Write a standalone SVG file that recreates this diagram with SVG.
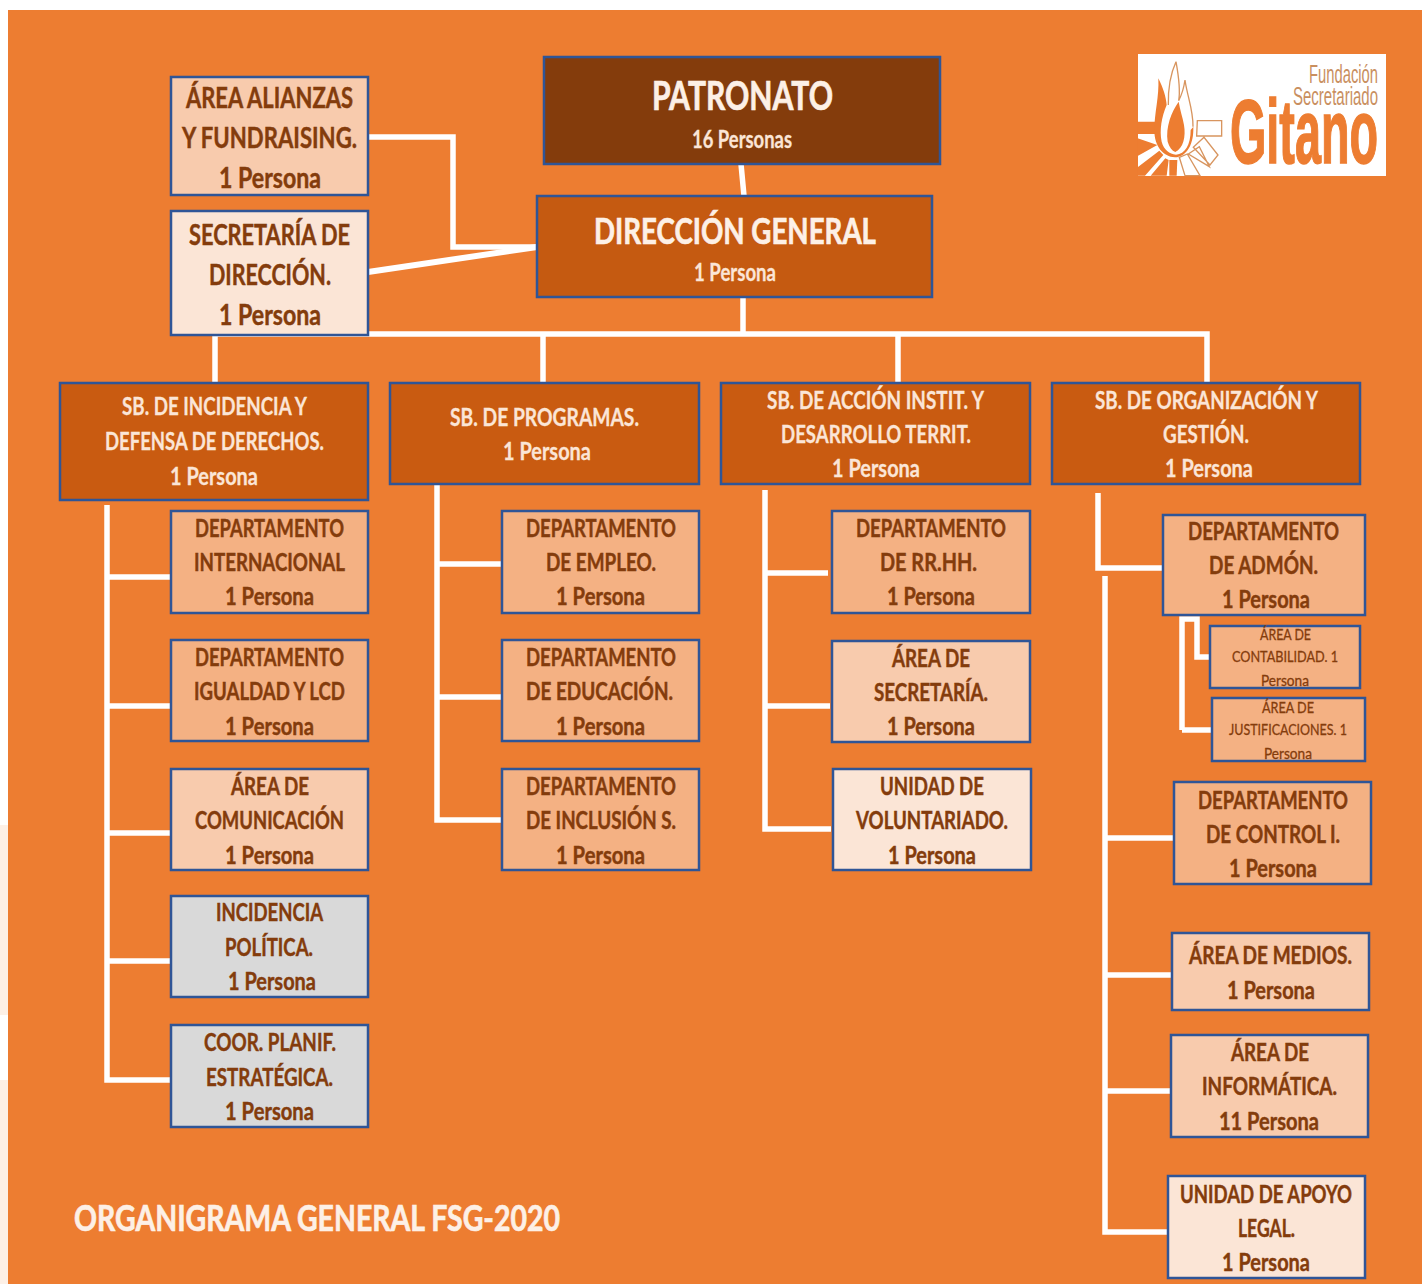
<svg xmlns="http://www.w3.org/2000/svg" width="1427" height="1284" viewBox="0 0 1427 1284">
<style>
text{font-family:"Lato","Carlito","Liberation Sans",sans-serif;font-weight:700;fill:#843c0c;stroke:#843c0c;stroke-width:.45;font-size:25px}
.b{stroke:#2f5597;stroke-width:2.5}
.l{font-size:28px}
.s{font-size:15.5px;font-weight:400;stroke-width:.3}
text.n{fill:#fbe5d6;stroke:#fbe5d6;stroke-width:.3}
text.h{fill:#fdf0e6;stroke:#fdf0e6;stroke-width:.7;font-size:37px}
.c path{fill:none;stroke:#fff;stroke-width:5.5}
.dk{fill:#c95b11}
.a{fill:#f4b183}.p{fill:#f8cbad}.q{fill:#fbe5d6}.g{fill:#d9d9d9}
text.logo{font-family:"Liberation Sans",sans-serif;font-weight:400;fill:#c98f5f;stroke:none;font-size:25px}
</style>
<rect width="1427" height="1284" fill="#fff"/>
<rect x="0" y="825" width="8" height="190" fill="#fdf0e6"/>
<rect x="0" y="1080" width="8" height="204" fill="#fdf0e6"/>
<rect x="8" y="10" width="1414" height="1274" fill="#ed7d31"/>

<g id="connectors" class="c">
<path d="M368 137H453V247H537"/>
<path d="M368 272L537 247" style="stroke-width:6"/>
<path d="M741 164L744 196"/>
<path d="M743 297V335"/>
<path d="M215 383V334H1207V383"/>
<path d="M543 334V383"/>
<path d="M898 334V383"/>
<path d="M107 505V1080H171"/>
<path d="M107 577H171M107 706H171M107 833H171M107 961H171"/>
<path d="M437 483V820H502"/>
<path d="M437 564H502M437 697H502"/>
<path d="M765 490V829H831"/>
<path d="M765 573H828M765 706H830"/>
<path d="M1098 493V568H1163"/>
<path d="M1105 576V1232H1168"/>
<path d="M1105 838H1174M1105 975H1172M1105 1091H1171"/>
<path d="M1182 730V619H1197V657H1210"/>
<path d="M1182 730H1212"/>
</g>

<g id="patronato"><rect class="b" x="544" y="57" width="396" height="107" fill="#843c0c"/>
<text class="h" x="652" y="110" textLength="181" lengthAdjust="spacingAndGlyphs" style="font-size:40px">PATRONATO</text>
<text x="692" y="148" textLength="100" lengthAdjust="spacingAndGlyphs" class="n">16 Personas</text></g>

<g id="direccion"><rect class="b" x="537" y="196" width="395" height="101" fill="#c55a11"/>
<text class="h" x="594" y="244" textLength="282" lengthAdjust="spacingAndGlyphs">DIRECCIÓN GENERAL</text>
<text x="694" y="281" textLength="82" lengthAdjust="spacingAndGlyphs" class="n">1 Persona</text></g>

<g id="alianzas"><rect class="b p" x="171" y="77" width="197" height="118"/>
<text class="l" x="186" y="108" textLength="167" lengthAdjust="spacingAndGlyphs">ÁREA ALIANZAS</text>
<text class="l" x="182" y="148" textLength="175" lengthAdjust="spacingAndGlyphs">Y FUNDRAISING.</text>
<text class="l" x="219" y="188" textLength="102" lengthAdjust="spacingAndGlyphs">1 Persona</text></g>

<g id="secretaria"><rect class="b q" x="171" y="211" width="197" height="124"/>
<text class="l" x="189" y="245" textLength="161" lengthAdjust="spacingAndGlyphs">SECRETARÍA DE</text>
<text class="l" x="209" y="285" textLength="122" lengthAdjust="spacingAndGlyphs">DIRECCIÓN.</text>
<text class="l" x="219" y="325" textLength="102" lengthAdjust="spacingAndGlyphs">1 Persona</text></g>

<g id="sb1"><rect class="b dk" x="60" y="383" width="308" height="117"/>
<text class="n" x="122" y="415" textLength="185" lengthAdjust="spacingAndGlyphs">SB. DE INCIDENCIA Y</text>
<text class="n" x="105" y="450" textLength="219" lengthAdjust="spacingAndGlyphs">DEFENSA DE DERECHOS.</text>
<text class="n" x="170" y="485" textLength="88" lengthAdjust="spacingAndGlyphs">1 Persona</text></g>

<g id="sb2"><rect class="b dk" x="390" y="383" width="309" height="101"/>
<text class="n" x="450" y="426" textLength="189" lengthAdjust="spacingAndGlyphs">SB. DE PROGRAMAS.</text>
<text class="n" x="503" y="460" textLength="88" lengthAdjust="spacingAndGlyphs">1 Persona</text></g>

<g id="sb3"><rect class="b dk" x="721" y="383" width="309" height="101"/>
<text class="n" x="767" y="409" textLength="217" lengthAdjust="spacingAndGlyphs">SB. DE ACCIÓN INSTIT. Y</text>
<text class="n" x="781" y="443" textLength="190" lengthAdjust="spacingAndGlyphs">DESARROLLO TERRIT.</text>
<text class="n" x="832" y="477" textLength="88" lengthAdjust="spacingAndGlyphs">1 Persona</text></g>

<g id="sb4"><rect class="b dk" x="1052" y="383" width="308" height="101"/>
<text class="n" x="1095" y="409" textLength="223" lengthAdjust="spacingAndGlyphs">SB. DE ORGANIZACIÓN Y</text>
<text class="n" x="1163" y="443" textLength="86" lengthAdjust="spacingAndGlyphs">GESTIÓN.</text>
<text class="n" x="1165" y="477" textLength="88" lengthAdjust="spacingAndGlyphs">1 Persona</text></g>

<g id="dep-internacional"><rect class="b a" x="171" y="511" width="197" height="102"/>
<text x="195" y="537" textLength="149" lengthAdjust="spacingAndGlyphs">DEPARTAMENTO</text>
<text x="194" y="571" textLength="151" lengthAdjust="spacingAndGlyphs">INTERNACIONAL</text>
<text x="225" y="605" textLength="89" lengthAdjust="spacingAndGlyphs">1 Persona</text></g>

<g id="dep-igualdad"><rect class="b a" x="171" y="640" width="197" height="101"/>
<text x="195" y="666" textLength="149" lengthAdjust="spacingAndGlyphs">DEPARTAMENTO</text>
<text x="194" y="700" textLength="151" lengthAdjust="spacingAndGlyphs">IGUALDAD Y LCD</text>
<text x="225" y="735" textLength="89" lengthAdjust="spacingAndGlyphs">1 Persona</text></g>

<g id="area-comunicacion"><rect class="b p" x="171" y="769" width="197" height="101"/>
<text x="231" y="795" textLength="78" lengthAdjust="spacingAndGlyphs">ÁREA DE</text>
<text x="195" y="829" textLength="149" lengthAdjust="spacingAndGlyphs">COMUNICACIÓN</text>
<text x="225" y="864" textLength="89" lengthAdjust="spacingAndGlyphs">1 Persona</text></g>

<g id="incidencia-politica"><rect class="b g" x="171" y="896" width="197" height="101"/>
<text x="216" y="921" textLength="107" lengthAdjust="spacingAndGlyphs">INCIDENCIA</text>
<text x="225" y="956" textLength="88" lengthAdjust="spacingAndGlyphs">POLÍTICA.</text>
<text x="228" y="990" textLength="88" lengthAdjust="spacingAndGlyphs">1 Persona</text></g>

<g id="coor-planif"><rect class="b g" x="171" y="1025" width="197" height="102"/>
<text x="204" y="1051" textLength="132" lengthAdjust="spacingAndGlyphs">COOR. PLANIF.</text>
<text x="206" y="1086" textLength="127" lengthAdjust="spacingAndGlyphs">ESTRATÉGICA.</text>
<text x="225" y="1120" textLength="89" lengthAdjust="spacingAndGlyphs">1 Persona</text></g>

<g id="dep-empleo"><rect class="b a" x="502" y="511" width="197" height="102"/>
<text x="526" y="537" textLength="150" lengthAdjust="spacingAndGlyphs">DEPARTAMENTO</text>
<text x="546" y="571" textLength="110" lengthAdjust="spacingAndGlyphs">DE EMPLEO.</text>
<text x="556" y="605" textLength="89" lengthAdjust="spacingAndGlyphs">1 Persona</text></g>

<g id="dep-educacion"><rect class="b a" x="502" y="640" width="197" height="101"/>
<text x="526" y="666" textLength="150" lengthAdjust="spacingAndGlyphs">DEPARTAMENTO</text>
<text x="526" y="700" textLength="147" lengthAdjust="spacingAndGlyphs">DE EDUCACIÓN.</text>
<text x="556" y="735" textLength="89" lengthAdjust="spacingAndGlyphs">1 Persona</text></g>

<g id="dep-inclusion"><rect class="b a" x="502" y="769" width="197" height="101"/>
<text x="526" y="795" textLength="150" lengthAdjust="spacingAndGlyphs">DEPARTAMENTO</text>
<text x="526" y="829" textLength="150" lengthAdjust="spacingAndGlyphs">DE INCLUSIÓN S.</text>
<text x="556" y="864" textLength="89" lengthAdjust="spacingAndGlyphs">1 Persona</text></g>

<g id="dep-rrhh"><rect class="b a" x="832" y="511" width="198" height="102"/>
<text x="856" y="537" textLength="150" lengthAdjust="spacingAndGlyphs">DEPARTAMENTO</text>
<text x="880" y="571" textLength="97" lengthAdjust="spacingAndGlyphs">DE RR.HH.</text>
<text x="887" y="605" textLength="88" lengthAdjust="spacingAndGlyphs">1 Persona</text></g>

<g id="area-secretaria"><rect class="b p" x="832" y="641" width="198" height="101"/>
<text x="892" y="667" textLength="78" lengthAdjust="spacingAndGlyphs">ÁREA DE</text>
<text x="874" y="701" textLength="114" lengthAdjust="spacingAndGlyphs">SECRETARÍA.</text>
<text x="887" y="735" textLength="88" lengthAdjust="spacingAndGlyphs">1 Persona</text></g>

<g id="unidad-voluntariado"><rect class="b q" x="833" y="769" width="198" height="101"/>
<text x="880" y="795" textLength="104" lengthAdjust="spacingAndGlyphs">UNIDAD DE</text>
<text x="856" y="829" textLength="152" lengthAdjust="spacingAndGlyphs">VOLUNTARIADO.</text>
<text x="888" y="864" textLength="88" lengthAdjust="spacingAndGlyphs">1 Persona</text></g>

<g id="dep-admon"><rect class="b a" x="1163" y="515" width="202" height="100"/>
<text x="1188" y="540" textLength="151" lengthAdjust="spacingAndGlyphs">DEPARTAMENTO</text>
<text x="1209" y="574" textLength="109" lengthAdjust="spacingAndGlyphs">DE ADMÓN.</text>
<text x="1222" y="608" textLength="88" lengthAdjust="spacingAndGlyphs">1 Persona</text></g>

<g id="area-contabilidad"><rect class="b a" x="1210" y="626" width="150" height="62"/>
<text class="s" x="1260" y="640" textLength="51" lengthAdjust="spacingAndGlyphs">ÁREA DE</text>
<text class="s" x="1232" y="662" textLength="106" lengthAdjust="spacingAndGlyphs">CONTABILIDAD. 1</text>
<text class="s" x="1261" y="686" textLength="48" lengthAdjust="spacingAndGlyphs">Persona</text></g>

<g id="area-justificaciones"><rect class="b a" x="1212" y="698" width="153" height="63"/>
<text class="s" x="1262" y="713" textLength="52" lengthAdjust="spacingAndGlyphs">ÁREA DE</text>
<text class="s" x="1229" y="735" textLength="118" lengthAdjust="spacingAndGlyphs">JUSTIFICACIONES. 1</text>
<text class="s" x="1264" y="759" textLength="48" lengthAdjust="spacingAndGlyphs">Persona</text></g>

<g id="dep-control"><rect class="b a" x="1174" y="782" width="197" height="102"/>
<text x="1198" y="809" textLength="150" lengthAdjust="spacingAndGlyphs">DEPARTAMENTO</text>
<text x="1206" y="843" textLength="134" lengthAdjust="spacingAndGlyphs">DE CONTROL I.</text>
<text x="1229" y="877" textLength="88" lengthAdjust="spacingAndGlyphs">1 Persona</text></g>

<g id="area-medios"><rect class="b p" x="1172" y="933" width="197" height="77"/>
<text x="1189" y="964" textLength="163" lengthAdjust="spacingAndGlyphs">ÁREA DE MEDIOS.</text>
<text x="1227" y="999" textLength="88" lengthAdjust="spacingAndGlyphs">1 Persona</text></g>

<g id="area-informatica"><rect class="b p" x="1171" y="1035" width="197" height="102"/>
<text x="1231" y="1061" textLength="78" lengthAdjust="spacingAndGlyphs">ÁREA DE</text>
<text x="1202" y="1095" textLength="135" lengthAdjust="spacingAndGlyphs">INFORMÁTICA.</text>
<text x="1219" y="1130" textLength="100" lengthAdjust="spacingAndGlyphs">11 Persona</text></g>

<g id="unidad-legal"><rect class="b q" x="1168" y="1176" width="197" height="102"/>
<text x="1180" y="1203" textLength="172" lengthAdjust="spacingAndGlyphs">UNIDAD DE APOYO</text>
<text x="1238" y="1237" textLength="57" lengthAdjust="spacingAndGlyphs">LEGAL.</text>
<text x="1222" y="1271" textLength="88" lengthAdjust="spacingAndGlyphs">1 Persona</text></g>

<text id="titulo" class="h" x="74" y="1231" textLength="486" lengthAdjust="spacingAndGlyphs">ORGANIGRAMA GENERAL FSG-2020</text>

<g id="logo">
<rect x="1138" y="54" width="248" height="122" fill="#fff"/>
<g transform="translate(1100 30) scale(.3333)">
<path fill="#ed7d31" d="M113 275H165L172 312H113ZM113 325L172 345L113 378ZM113 437V412L178 362L190 375L135 437ZM152 437L196 385L206 390L200 437Z"/>
<path fill="#ed7d31" d="M175 145C190 175 198 200 200 225C185 260 178 300 185 335C192 360 208 372 228 374C255 372 272 345 272 300L280 290C282 340 262 380 225 382C190 380 163 350 163 300C163 250 178 200 175 145Z"/>
<path fill="none" stroke="#d8955f" stroke-width="4" d="M228 95C212 130 204 180 205 225M228 95C238 150 240 190 236 212C245 195 252 170 255 150C262 200 280 240 279 290"/>
<path fill="#ed7d31" d="M236 215C215 245 196 290 203 335C208 352 216 362 226 366C250 355 258 320 252 285C248 262 240 240 236 215Z"/>
<path fill="none" stroke="#d8955f" stroke-width="4" d="M292 272H365V318H290ZM280 352L312 322L354 375L330 405ZM265 372L298 350L328 410ZM238 382L262 372L300 437H255Z"/>
<path fill="#ed7d31" d="M208 390H232L230 437H208Z"/>
</g>
<text class="logo" x="1309" y="83" textLength="69" lengthAdjust="spacingAndGlyphs">Fundación</text>
<text class="logo" x="1293" y="105" textLength="85" lengthAdjust="spacingAndGlyphs">Secretariado</text>
<text class="logo" x="1230" y="163" textLength="148" lengthAdjust="spacingAndGlyphs" style="font-size:90px;font-weight:700;fill:#ed7d31;stroke:#ed7d31;stroke-width:1.5">Gitano</text>
</g>
</svg>
